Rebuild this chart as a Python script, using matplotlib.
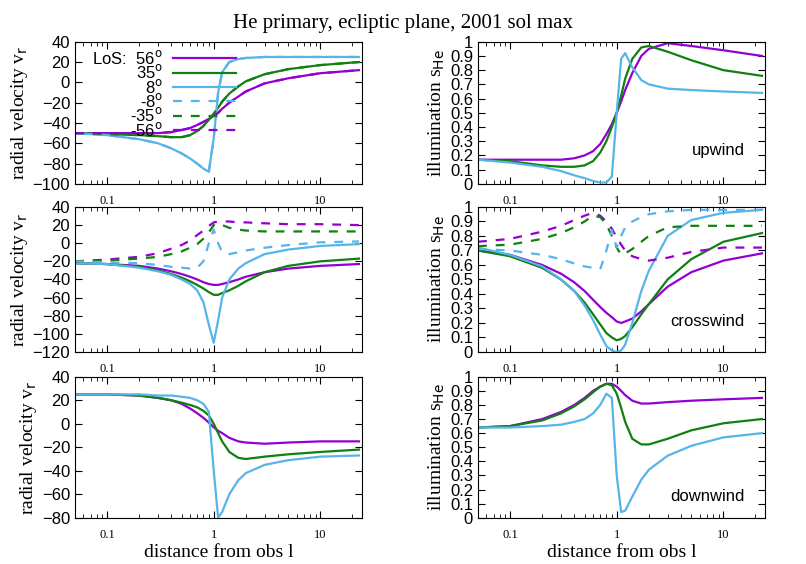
import matplotlib
matplotlib.use("Agg")
import matplotlib.pyplot as plt
from matplotlib.lines import Line2D
import matplotlib.ticker as mt

dist = [0.05,0.1,0.2,0.3,0.4,0.5,0.6,0.7,0.8,0.9,1.0,1.1,1.2,1.4,1.7,2,3,5,10,23]

up_v56 = [-50,-50,-50,-50,-49,-47,-45,-42,-39,-36,-33,-30,-26,-20,-14,-9,-1,4,9,12]
up_v35 = [-50,-51,-52,-53,-54,-54,-52,-48,-43,-37,-31,-25,-19,-11,-4,1,8,13,17,20]
up_v8  = [-50,-52,-56,-60,-65,-70,-75,-80,-85,-88,-55,-10,10,20,23,24,25,25,25,25]
up_s56 = [0.17,0.17,0.17,0.17,0.18,0.2,0.23,0.28,0.35,0.42,0.5,0.58,0.66,0.78,0.9,0.95,0.99,0.97,0.94,0.9]
up_s35 = [0.17,0.16,0.13,0.12,0.12,0.13,0.16,0.22,0.3,0.4,0.5,0.62,0.74,0.88,0.96,0.97,0.93,0.87,0.8,0.76]
up_s8  = [0.17,0.15,0.12,0.09,0.06,0.04,0.02,0.01,0.01,0.05,0.5,0.88,0.92,0.82,0.73,0.7,0.67,0.66,0.65,0.64]

cr_v56 = [-22,-23,-25,-28,-31,-34,-37,-40,-43,-45,-46,-46,-45,-43,-40,-37,-32,-28,-25,-23]
cr_v35 = [-22,-23,-26,-30,-34,-38,-42,-46,-50,-54,-57,-57,-55,-52,-47,-42,-32,-25,-20,-17]
cr_v8  = [-22,-23,-27,-31,-35,-40,-45,-52,-65,-90,-110,-85,-60,-40,-28,-22,-12,-7,-3,-1]
cr_vm56 = [-20,-18,-15,-11,-6,-2,3,9,14,19,23,24,24,24,23,23,22,21,21,20]
cr_vm35 = [-20,-19,-17,-15,-12,-9,-5,-1,5,12,20,22,20,17,15,14,13,13,13,13]
cr_vm8  = [-20,-21,-22,-24,-26,-27,-28,-27,-20,0,15,0,-10,-12,-10,-8,-5,-2,1,2]
cr_s56 = [0.7,0.67,0.6,0.54,0.48,0.42,0.36,0.31,0.27,0.24,0.21,0.2,0.21,0.23,0.28,0.33,0.45,0.55,0.63,0.68]
cr_s35 = [0.7,0.66,0.58,0.5,0.42,0.34,0.26,0.19,0.13,0.1,0.08,0.09,0.11,0.17,0.26,0.33,0.5,0.64,0.76,0.82]
cr_s8  = [0.72,0.67,0.59,0.5,0.42,0.32,0.22,0.12,0.04,0.01,0.0,0.01,0.05,0.2,0.42,0.56,0.8,0.91,0.96,0.98]
cr_sm56 = [0.76,0.78,0.83,0.87,0.91,0.94,0.96,0.94,0.9,0.85,0.79,0.74,0.7,0.66,0.64,0.63,0.65,0.69,0.72,0.72]
cr_sm35 = [0.73,0.74,0.78,0.82,0.86,0.9,0.94,0.93,0.88,0.8,0.72,0.67,0.68,0.71,0.76,0.8,0.86,0.87,0.87,0.87]
cr_sm8  = [0.71,0.7,0.67,0.64,0.61,0.59,0.58,0.57,0.7,0.84,0.72,0.8,0.86,0.9,0.93,0.95,0.97,0.98,0.98,0.98]

dn_v56 = [25,25,24,22,20,17,13,9,5,1,-3,-6,-8,-12,-15,-16,-17,-16,-15,-15]
dn_v35 = [25,25,24,22,20,18,16,14,11,7,0,-8,-15,-24,-29,-30,-28,-26,-24,-22]
dn_v8  = [25,25,25,24,24,23,22,20,17,10,-40,-80,-75,-60,-48,-42,-35,-31,-28,-27]
dn_s56 = [0.64,0.65,0.7,0.75,0.8,0.85,0.9,0.93,0.95,0.95,0.93,0.9,0.87,0.83,0.81,0.81,0.82,0.83,0.84,0.85]
dn_s35 = [0.64,0.65,0.69,0.74,0.79,0.84,0.89,0.93,0.95,0.94,0.88,0.78,0.68,0.56,0.52,0.52,0.56,0.62,0.67,0.7]
dn_s8  = [0.64,0.64,0.65,0.66,0.68,0.7,0.74,0.8,0.88,0.85,0.3,0.04,0.05,0.15,0.27,0.34,0.44,0.51,0.57,0.6]

P, G, B = "#9400d3", "#108010", "#56b4e9"
serif = "Liberation Serif"
plt.rcParams["font.family"] = "Liberation Sans"
plt.rcParams["font.size"] = 12

fig = plt.figure(figsize=(8.06, 5.64), dpi=100)
fig.text(0.5, 0.975, "He primary, ecliptic plane, 2001 sol max", ha="center", va="top",
         family=serif, fontsize=15)

rows = [(0.674, 0.252), (0.376, 0.257), (0.082, 0.250)]
lx, lw = 0.093, 0.356
rx, rw = 0.593, 0.356

def style(ax, ylim, yt, ylab):
    ax.set_xscale("log")
    ax.set_xlim(0.05, 24.5)
    ax.set_ylim(*ylim)
    ax.set_yticks(yt)
    ax.tick_params(which="both", direction="in", top=True, right=True)
    ax.tick_params(which="major", length=5, labelsize=12)
    ax.tick_params(which="minor", length=3)
    ax.tick_params(axis="x", labelsize=9, pad=8)
    ax.xaxis.set_major_locator(mt.FixedLocator([0.1, 1, 10]))
    ax.xaxis.set_major_formatter(mt.FixedFormatter(["0.1", "1", "10"]))
    ax.xaxis.set_minor_locator(mt.LogLocator(subs=range(2, 10), numticks=20))
    ax.xaxis.set_minor_formatter(mt.NullFormatter())
    for t in ax.get_xticklabels():
        t.set_family(serif)
    ax.set_ylabel(ylab, family=serif, fontsize=14, labelpad=2)

lw_ = 1.6
DASH = (0, (4, 4))
vlab = "radial velocity v$_{\\rm r}$"
slab = "illumination s$_{\\rm He}$"
sticks = [0, .1, .2, .3, .4, .5, .6, .7, .8, .9, 1]
slabels = ["0", "0.1", "0.2", "0.3", "0.4", "0.5", "0.6", "0.7", "0.8", "0.9", "1"]

# upwind
ax = fig.add_axes([lx, rows[0][0], lw, rows[0][1]])
for d, c in [(up_v56, P), (up_v35, G), (up_v8, B)]:
    ax.plot(dist, d, color=c, lw=lw_)
for d, c in [(up_v8, B), (up_v35, G), (up_v56, P)]:
    ax.plot(dist, d, color=c, lw=lw_, ls=DASH)
style(ax, (-100, 40), range(-100, 41, 20), vlab)
h = [Line2D([], [], color=P, lw=lw_), Line2D([], [], color=G, lw=lw_), Line2D([], [], color=B, lw=lw_),
     Line2D([], [], color=B, lw=lw_, ls=DASH), Line2D([], [], color=G, lw=lw_, ls=DASH),
     Line2D([], [], color=P, lw=lw_, ls=DASH)]
labs = ["LoS:  56$^{\\rm o}$", "35$^{\\rm o}$", "8$^{\\rm o}$", "-8$^{\\rm o}$", "-35$^{\\rm o}$", "-56$^{\\rm o}$"]
leg = ax.legend(h, labs, loc="upper left", bbox_to_anchor=(0.02, 1.03), frameon=False, markerfirst=False,
                handlelength=3.8, labelspacing=-0.22, fontsize=12, borderpad=0.2, handletextpad=0.6)
for t in leg.get_texts():
    t.set_ha("right")
leg._legend_box.align = "right"

ax = fig.add_axes([rx, rows[0][0], rw, rows[0][1]])
for d, c in [(up_s56, P), (up_s35, G), (up_s8, B)]:
    ax.plot(dist, d, color=c, lw=lw_)
style(ax, (0, 1), sticks, slab)
ax.set_yticklabels(slabels)
ax.text(0.93, 0.2, "upwind", transform=ax.transAxes, ha="right", fontsize=12)

# crosswind
ax = fig.add_axes([lx, rows[1][0], lw, rows[1][1]])
for d, c in [(cr_v56, P), (cr_v35, G), (cr_v8, B)]:
    ax.plot(dist, d, color=c, lw=lw_)
for d, c in [(cr_vm56, P), (cr_vm35, G), (cr_vm8, B)]:
    ax.plot(dist, d, color=c, lw=lw_, ls=DASH)
style(ax, (-120, 40), range(-120, 41, 20), vlab)

ax = fig.add_axes([rx, rows[1][0], rw, rows[1][1]])
for d, c in [(cr_s56, P), (cr_s35, G), (cr_s8, B)]:
    ax.plot(dist, d, color=c, lw=lw_)
for d, c in [(cr_sm56, P), (cr_sm35, G), (cr_sm8, B)]:
    ax.plot(dist, d, color=c, lw=lw_, ls=DASH)
style(ax, (0, 1), sticks, slab)
ax.set_yticklabels(slabels)
ax.text(0.93, 0.18, "crosswind", transform=ax.transAxes, ha="right", fontsize=12)

# downwind
ax = fig.add_axes([lx, rows[2][0], lw, rows[2][1]])
for d, c in [(dn_v56, P), (dn_v35, G), (dn_v8, B)]:
    ax.plot(dist, d, color=c, lw=lw_)
style(ax, (-80, 40), range(-80, 41, 20), vlab)
ax.set_xlabel("distance from obs l", family=serif, fontsize=14, labelpad=2)

ax = fig.add_axes([rx, rows[2][0], rw, rows[2][1]])
for d, c in [(dn_s56, P), (dn_s35, G), (dn_s8, B)]:
    ax.plot(dist, d, color=c, lw=lw_)
style(ax, (0, 1), sticks, slab)
ax.set_yticklabels(slabels)
ax.text(0.93, 0.12, "downwind", transform=ax.transAxes, ha="right", fontsize=12)
ax.set_xlabel("distance from obs l", family=serif, fontsize=14, labelpad=2)

fig.savefig("out.png", dpi=100)
